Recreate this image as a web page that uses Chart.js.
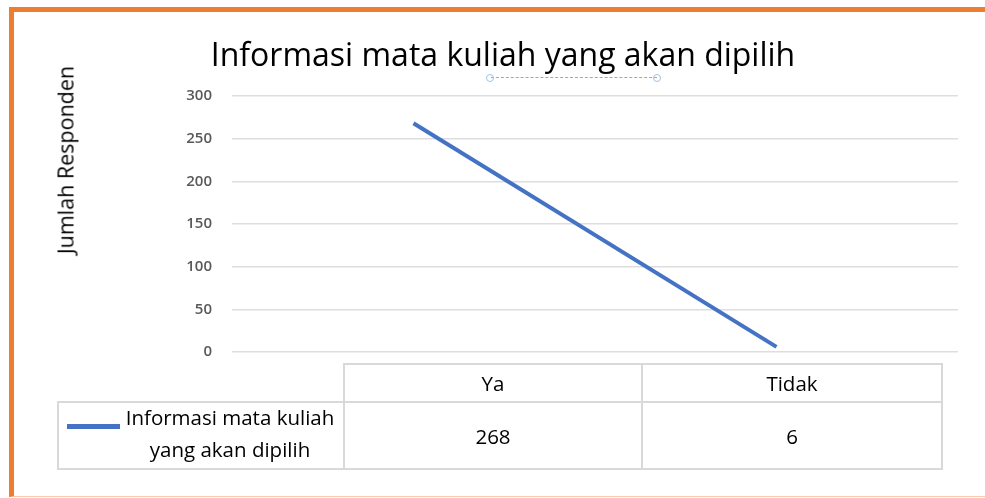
<!DOCTYPE html>
<html>
<head>
<meta charset="utf-8">
<script src="https://cdn.jsdelivr.net/npm/chart.js@4.4.1/dist/chart.umd.min.js"></script>
<style>
  html, body { margin: 0; padding: 0; background: #fff; }
  body { width: 985px; height: 498px; position: relative; overflow: hidden; font-family: "Open Sans", sans-serif; color: #000; }
  #frame { position: absolute; left: 9px; top: 7px; width: 990px; height: 484px; border-top: 5px solid #ed7d31; border-left: 5px solid #ed7d31; border-bottom: 1px solid #f8cbad; }
  #wrap { position: absolute; left: 0; top: 0; width: 985px; height: 498px; }
  #title { position: absolute; left: 0; width: 1006px; top: 31px; text-align: center; font-size: 32px; line-height: 46px; }
  #ylabel { position: absolute; left: 65px; top: 160px; transform: translate(-50%, -50%) rotate(-90deg); font-size: 21.5px; white-space: nowrap; }
  .cell { position: absolute; box-sizing: border-box; border: 2px solid #d9d9d9; display: flex; align-items: center; justify-content: center; font-size: 20.5px; text-align: center; }
  #legendLine { position: absolute; left: 67px; top: 424px; width: 53px; height: 5px; background: #4472c4; }
  #legendText { position: absolute; left: 119px; width: 222px; top: 401px; text-align: center; font-size: 20.5px; line-height: 32px; }
  #handle { position: absolute; left: 491px; top: 77px; width: 166px; border-top: 1px dashed #a6a6a6; }
  .dot { position: absolute; top: 74px; width: 8px; height: 8px; border-radius: 50%; border: 1px solid #9dc3e6; box-sizing: border-box; }
</style>
</head>
<body>
<div id="frame"></div>
<div id="wrap"><canvas id="chart"></canvas></div>
<div id="handle"></div>
<div class="dot" style="left:486px"></div>
<div class="dot" style="left:653px"></div>
<div id="title"></div>
<div id="ylabel"></div>
<div id="table"></div>
<script>
const chartTitle = "Informasi mata kuliah yang akan dipilih";
const yAxisTitle = "Jumlah Responden";
const seriesName = "Informasi mata kuliah yang akan dipilih";
const categories = ["Ya", "Tidak"];
const responden = [268, 6];
const yTicks = [0, 50, 100, 150, 200, 250, 300];

document.getElementById("title").textContent = chartTitle;
document.getElementById("ylabel").textContent = yAxisTitle;

function renderTable() {
  const table = document.getElementById("table");
  const colLeft = 343;
  const colWidth = 300;
  let html = "";
  categories.forEach((cat, i) => {
    const left = colLeft + i * colWidth - (i > 0 ? 2 : 0);
    const width = colWidth + (i > 0 ? 2 : 0);
    html += `<div class="cell" style="left:${left}px;top:363px;width:${width}px;height:40px">${cat}</div>`;
    html += `<div class="cell" style="left:${left}px;top:401px;width:${width}px;height:69px">${responden[i]}</div>`;
  });
  html += `<div class="cell" style="left:57px;top:401px;width:288px;height:69px"></div>`;
  html += `<div id="legendLine"></div>`;
  html += `<div id="legendText">Informasi mata kuliah<br>yang akan dipilih</div>`;
  table.innerHTML = html;
}

renderTable();

const padLeft = 150;

new Chart(document.getElementById("chart"), {
  type: "line",
  data: {
    labels: categories,
    datasets: [
      {
        label: seriesName,
        data: responden,
        borderColor: "#4472c4",
        backgroundColor: "#4472c4",
        borderWidth: 4,
        pointRadius: 0,
        borderCapStyle: "butt",
        tension: 0,
      },
    ],
  },
  options: {
    responsive: true,
    maintainAspectRatio: false,
    animation: false,
    layout: { padding: { left: padLeft, right: 27, top: 96, bottom: 146 } },
    plugins: {
      legend: { display: false },
      title: { display: false },
      tooltip: { enabled: false },
    },
    scales: {
      x: {
        type: "category",
        offset: true,
        display: false,
      },
      y: {
        min: 0,
        max: 300,
        afterFit(scale) {
          scale.width = 232 - padLeft;
        },
        afterBuildTicks(scale) {
          scale.ticks = yTicks.map((v) => ({ value: v }));
        },
        border: { display: false },
        grid: { color: "#dedede", lineWidth: 1.5, drawTicks: false },
        ticks: {
          color: "#595959",
          padding: 20,
          font: { family: "Open Sans", size: 15, weight: 600 },
        },
      },
    },
  },
});
</script>
</body>
</html>
